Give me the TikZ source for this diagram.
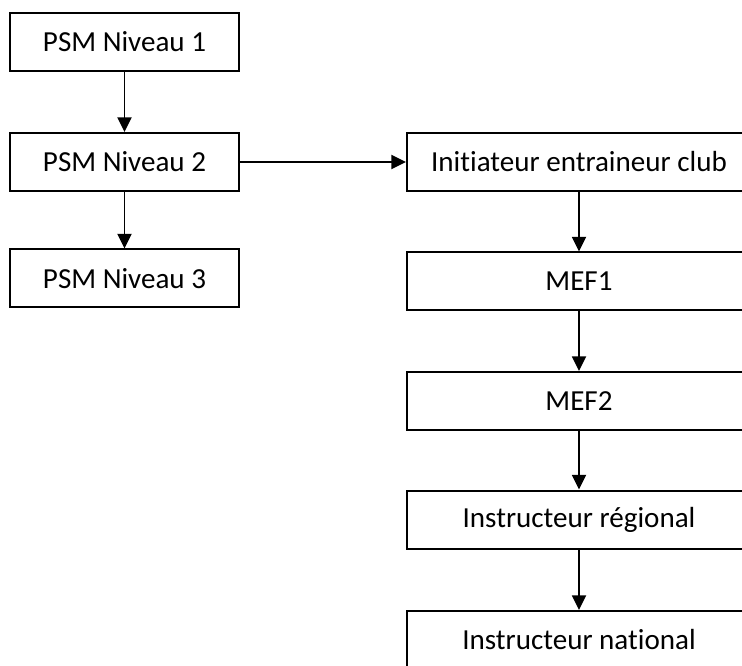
\documentclass[tikz,border=0pt]{standalone}
\usepackage{fontspec}
\setmainfont[Ligatures={NoCommon}]{Carlito}
\usetikzlibrary{arrows.meta}
\begin{document}
\begin{tikzpicture}[
    x=0.75pt, y=-0.75pt,
    stage/.style={draw, line width=1.5pt, inner sep=0pt,
      minimum height=43.5pt, font=\fontsize{21.8}{26}\selectfont},
    psm/.style={stage, minimum width=171.75pt},
    cursus/.style={stage, minimum width=258pt},
    flow/.style={-{Triangle[length=11pt,width=10.5pt]}, line width=1.4pt}
  ]
    \clip (0,0) rectangle (742,666);
    \node[psm] (psm1) at (124.5,42) {PSM Niveau 1};
    \node[psm] (psm2) at (124.5,162) {PSM Niveau 2};
    \node[psm] (psm3) at (124.5,278.5) {PSM Niveau 3};
    \node[cursus] (iec) at (579,162) {Initiateur entraineur club};
    \node[cursus] (mef1) at (579,281.5) {MEF1};
    \node[cursus] (mef2) at (579,401) {MEF2};
    \node[cursus] (ireg) at (579,519.5) {Instructeur régional};
    \node[cursus] (inat) at (579,640) {Instructeur national};
    \draw[flow] (psm1) -- (psm2);
    \draw[flow] (psm2) -- (psm3);
    \draw[flow] (psm2) -- (iec);
    \draw[flow] (iec) -- (mef1);
    \draw[flow] (mef1) -- (mef2);
    \draw[flow] (mef2) -- (ireg);
    \draw[flow] (ireg) -- (inat);
  \end{tikzpicture}
\end{document}
